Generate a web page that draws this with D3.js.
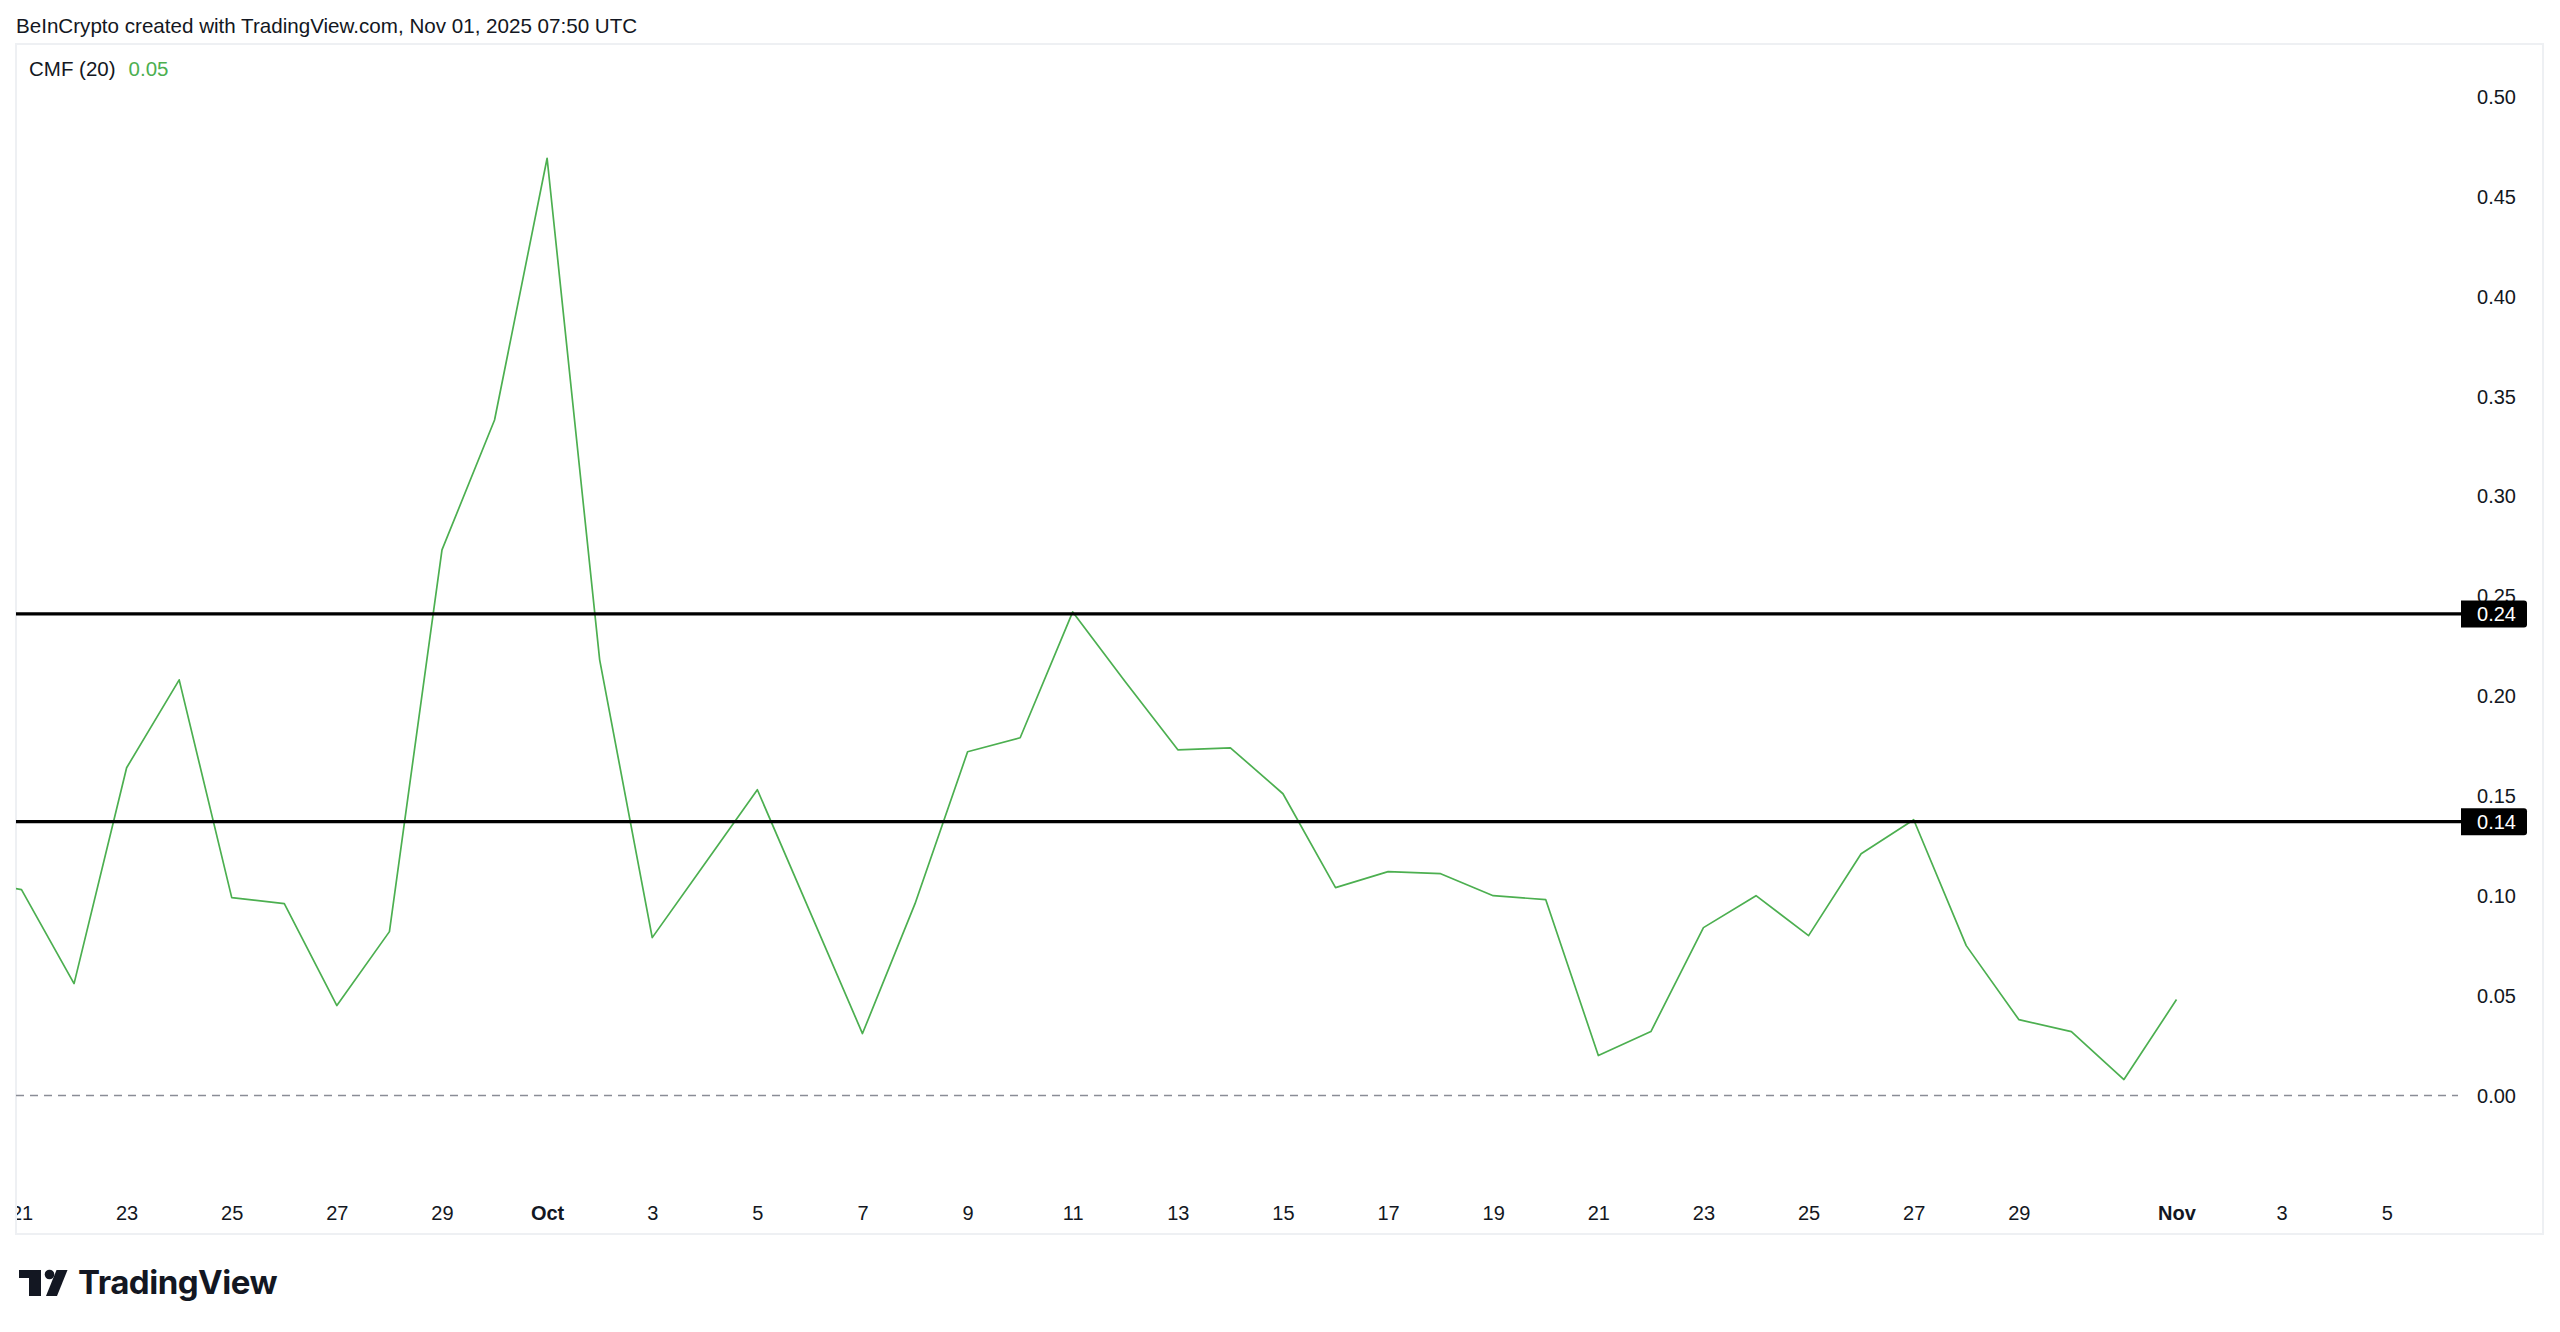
<!DOCTYPE html>
<html>
<head>
<meta charset="utf-8">
<script src="https://cdn.jsdelivr.net/npm/d3@7"></script>
<style>
  body { margin: 0; background: #fff; }
  text { font-family: "Liberation Sans", Arial, sans-serif; fill: #131722; }
</style>
</head>
<body>
<script>
const width = 2560, height = 1332;
const panel = { left: 16, top: 44, right: 2543, bottom: 1234 };
const plotRight = 2458;
const plotBottom = 1190;

// daily CMF(20) readings
const days = [
  "2025-09-20", "2025-09-21", "2025-09-22", "2025-09-23", "2025-09-24", "2025-09-25",
  "2025-09-26", "2025-09-27", "2025-09-28", "2025-09-29", "2025-09-30", "2025-10-01",
  "2025-10-02", "2025-10-03", "2025-10-04", "2025-10-05", "2025-10-06", "2025-10-07",
  "2025-10-08", "2025-10-09", "2025-10-10", "2025-10-11", "2025-10-12", "2025-10-13",
  "2025-10-14", "2025-10-15", "2025-10-16", "2025-10-17", "2025-10-18", "2025-10-19",
  "2025-10-20", "2025-10-21", "2025-10-22", "2025-10-23", "2025-10-24", "2025-10-25",
  "2025-10-26", "2025-10-27", "2025-10-28", "2025-10-29", "2025-10-30", "2025-10-31",
  "2025-11-01"
];
const cmf = [
  0.108, 0.103, 0.056, 0.164, 0.208, 0.099,
  0.096, 0.045, 0.082, 0.273, 0.338, 0.469,
  0.218, 0.079, 0.116, 0.153, 0.092, 0.031,
  0.096, 0.172, 0.179, 0.242, 0.207, 0.173,
  0.174, 0.151, 0.104, 0.112, 0.111, 0.100,
  0.098, 0.020, 0.032, 0.084, 0.100, 0.080,
  0.121, 0.138, 0.075, 0.038, 0.032, 0.008,
  0.048
];

// horizontal levels drawn on the chart
const levels = [0.241, 0.137];

const priceTicks = [0, 0.05, 0.10, 0.15, 0.20, 0.25, 0.30, 0.35, 0.40, 0.45, 0.50];
const timeTickDates = [
  "2025-09-21", "2025-09-23", "2025-09-25", "2025-09-27", "2025-09-29", "2025-10-01",
  "2025-10-03", "2025-10-05", "2025-10-07", "2025-10-09", "2025-10-11", "2025-10-13",
  "2025-10-15", "2025-10-17", "2025-10-19", "2025-10-21", "2025-10-23", "2025-10-25",
  "2025-10-27", "2025-10-29", "2025-11-01", "2025-11-03", "2025-11-05"
];
const timeTickLabels = [
  "21", "23", "25", "27", "29", "Oct", "3", "5", "7", "9", "11", "13",
  "15", "17", "19", "21", "23", "25", "27", "29", "Nov", "3", "5"
];

const parse = d3.utcParse("%Y-%m-%d");
const data = days.map((d, i) => ({ date: parse(d), value: cmf[i] }));

const svg = d3.select("body").append("svg")
    .attr("width", width)
    .attr("height", height);

svg.append("rect")
    .attr("width", width).attr("height", height)
    .attr("fill", "#ffffff");

// header
svg.append("text")
    .attr("x", 16).attr("y", 26)
    .attr("dy", "0.35em")
    .style("font-size", "20.6px")
    .text("BeInCrypto created with TradingView.com, Nov 01, 2025 07:50 UTC");

// chart panel
svg.append("rect")
    .attr("x", panel.left).attr("y", panel.top)
    .attr("width", panel.right - panel.left)
    .attr("height", panel.bottom - panel.top)
    .attr("fill", "#ffffff")
    .attr("stroke", "#eef0f3")
    .attr("stroke-width", 2);

const defs = svg.append("defs");
defs.append("clipPath").attr("id", "plotClip")
  .append("rect")
    .attr("x", panel.left).attr("y", panel.top)
    .attr("width", plotRight - panel.left)
    .attr("height", plotBottom - panel.top);
defs.append("clipPath").attr("id", "panelClip")
  .append("rect")
    .attr("x", panel.left + 1).attr("y", panel.top)
    .attr("width", panel.right - panel.left - 2)
    .attr("height", panel.bottom - panel.top);

// scales
const x = d3.scaleUtc()
    .domain([parse("2025-09-21"), parse("2025-11-01")])
    .range([21.5, 2176.5]);
const y = d3.scaleLinear()
    .domain([0, 0.5])
    .range([1095.5, 96.3]);

const plot = svg.append("g").attr("clip-path", "url(#plotClip)");

// zero line
plot.append("line")
    .attr("x1", panel.left).attr("x2", plotRight)
    .attr("y1", y(0)).attr("y2", y(0))
    .attr("stroke", "#8a8d96")
    .attr("stroke-width", 1.5)
    .attr("stroke-dasharray", "8,6");

// CMF line
const line = d3.line()
    .x(d => x(d.date))
    .y(d => y(d.value));

plot.append("path")
    .datum(data)
    .attr("fill", "none")
    .attr("stroke", "#4caf50")
    .attr("stroke-width", 1.7)
    .attr("stroke-linejoin", "round")
    .attr("d", line);

// price axis
const yAxis = d3.axisRight(y)
    .tickValues(priceTicks)
    .tickFormat(d3.format(".2f"))
    .tickSize(0)
    .tickPadding(0);

const yAxisG = svg.append("g")
    .attr("transform", "translate(2516,0)")
    .call(yAxis);
yAxisG.select(".domain").remove();
yAxisG.selectAll("text")
    .attr("x", 0)
    .attr("dy", "0.35em")
    .attr("text-anchor", "end")
    .attr("fill", "#131722")
    .style("font-size", "20px")
    .style("font-family", "'Liberation Sans', Arial, sans-serif");

// level lines with labels
const levelG = svg.append("g");
levelG.selectAll("line.level")
    .data(levels)
    .join("line")
    .attr("class", "level")
    .attr("x1", panel.left).attr("x2", 2462)
    .attr("y1", d => y(d)).attr("y2", d => y(d))
    .attr("stroke", "#000000")
    .attr("stroke-width", 3.2);

levelG.selectAll("path.tag")
    .data(levels)
    .join("path")
    .attr("class", "tag")
    .attr("fill", "#000000")
    .attr("d", d => {
      const cy = y(d), x0 = 2461, x1 = 2527, h = 27, r = 3;
      return `M${x0},${cy - h / 2}H${x1 - r}Q${x1},${cy - h / 2} ${x1},${cy - h / 2 + r}` +
             `V${cy + h / 2 - r}Q${x1},${cy + h / 2} ${x1 - r},${cy + h / 2}H${x0}Z`;
    });

levelG.selectAll("text.tag")
    .data(levels)
    .join("text")
    .attr("class", "tag")
    .attr("x", 2516)
    .attr("y", d => y(d))
    .attr("dy", "0.35em")
    .attr("text-anchor", "end")
    .style("fill", "#ffffff")
    .style("font-size", "20px")
    .text(d => d3.format(".2f")(d));

// time axis
const xAxis = d3.axisBottom(x)
    .tickValues(timeTickDates.map(parse))
    .tickFormat((d, i) => timeTickLabels[i])
    .tickSize(0)
    .tickPadding(0);

const xAxisG = svg.append("g")
    .attr("clip-path", "url(#panelClip)")
  .append("g")
    .attr("transform", "translate(0,1213)")
    .call(xAxis);
xAxisG.select(".domain").remove();
xAxisG.selectAll("text")
    .attr("y", 0)
    .attr("dy", "0.35em")
    .attr("fill", "#131722")
    .style("font-size", "20px")
    .style("font-family", "'Liberation Sans', Arial, sans-serif")
    .style("font-weight", (d, i) => /[A-Za-z]/.test(timeTickLabels[i]) ? "bold" : "normal");

// legend
const legend = svg.append("text")
    .attr("x", 29).attr("y", 69)
    .attr("dy", "0.35em")
    .style("font-size", "20.5px");
legend.append("tspan").text("CMF (20)");
legend.append("tspan")
    .attr("dx", 13)
    .style("fill", "#4caf50")
    .text(d3.format(".2f")(cmf[cmf.length - 1]));

// TradingView logo
const logo = svg.append("g").attr("fill", "#131722");
logo.append("path").attr("d", "M19,1270H41V1296H29V1278H19Z");
logo.append("circle").attr("cx", 49.5).attr("cy", 1274.5).attr("r", 4.8);
logo.append("path").attr("d", "M46,1296H57L67.5,1270H56.5Z");
svg.append("text")
    .attr("x", 78).attr("y", 1294)
    .attr("textLength", 199)
    .attr("lengthAdjust", "spacingAndGlyphs")
    .style("font-family", "Inter, 'Noto Sans', sans-serif")
    .style("font-weight", 700)
    .style("font-size", "32px")
    .style("letter-spacing", "-0.5px")
    .text("TradingView");
</script>
</body>
</html>
